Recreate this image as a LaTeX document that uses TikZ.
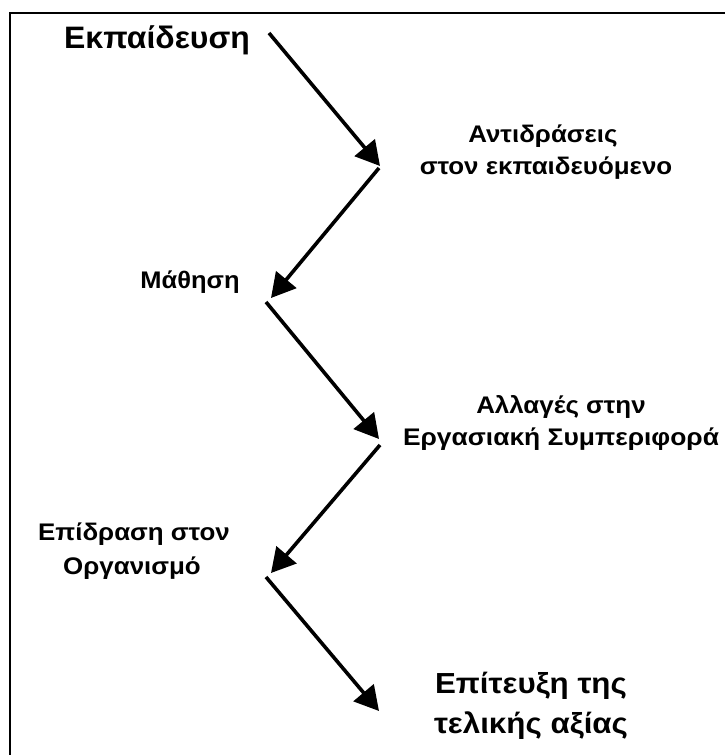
\documentclass[tikz,border=0pt]{standalone}
\usepackage{fontspec}
\setmainfont{Liberation Sans}
\usetikzlibrary{arrows.meta}
\newcommand{\wide}[2]{\scalebox{#1}[1]{#2}}
\begin{document}
\begin{tikzpicture}[x=1pt,y=-1pt,
  lbl/.style={inner sep=0pt,anchor=base,font=\bfseries\fontsize{#1}{#1}\selectfont},
  flow/.style={line width=3.6pt,-{Triangle[length=24pt,width=26pt]}}]
\useasboundingbox (0,0) rectangle (725,755);
\fill[white] (0,0) rectangle (725,755);
% open frame: top and left edges
\draw[line width=2pt] (10,755) -- (10,12.5) -- (725,12.5);

% labels
\node[lbl=31] (t1) at (157,48) {\wide{1.03}{Εκπαίδευση}};
\node[lbl=24] (t2a) at (543,142) {\wide{1.08}{Αντιδράσεις}};
\node[lbl=24] (t2b) at (546,174) {\wide{1.08}{στον εκπαιδευόμενο}};
\node[lbl=24] (t3) at (190,288) {\wide{1.06}{Μάθηση}};
\node[lbl=24] (t4a) at (561,413) {\wide{1.08}{Αλλαγές στην}};
\node[lbl=24] (t4b) at (561,445) {\wide{1.1}{Εργασιακή Συμπεριφορά}};
\node[lbl=24] (t5a) at (134,540) {\wide{1.08}{Επίδραση στον}};
\node[lbl=24] (t5b) at (132,574) {\wide{1.08}{Οργανισμό}};
\node[lbl=29] (t6a) at (531,693) {\wide{1.08}{Επίτευξη της}};
\node[lbl=29] (t6b) at (531,733) {\wide{1.08}{τελικής αξίας}};

% bend points of the zig-zag
\coordinate (a0) at (269,33);
\coordinate (a1) at (380,166);
\coordinate (b0) at (379,168);
\coordinate (b1) at (271,298);
\coordinate (c0) at (266,302);
\coordinate (c1) at (379,439);
\coordinate (d0) at (380,445);
\coordinate (d1) at (271,573);
\coordinate (e0) at (266,577);
\coordinate (e1) at (379,711);

\draw[flow] (a0) -- (a1);
\draw[flow] (b0) -- (b1);
\draw[flow] (c0) -- (c1);
\draw[flow] (d0) -- (d1);
\draw[flow] (e0) -- (e1);
\end{tikzpicture}
\end{document}
